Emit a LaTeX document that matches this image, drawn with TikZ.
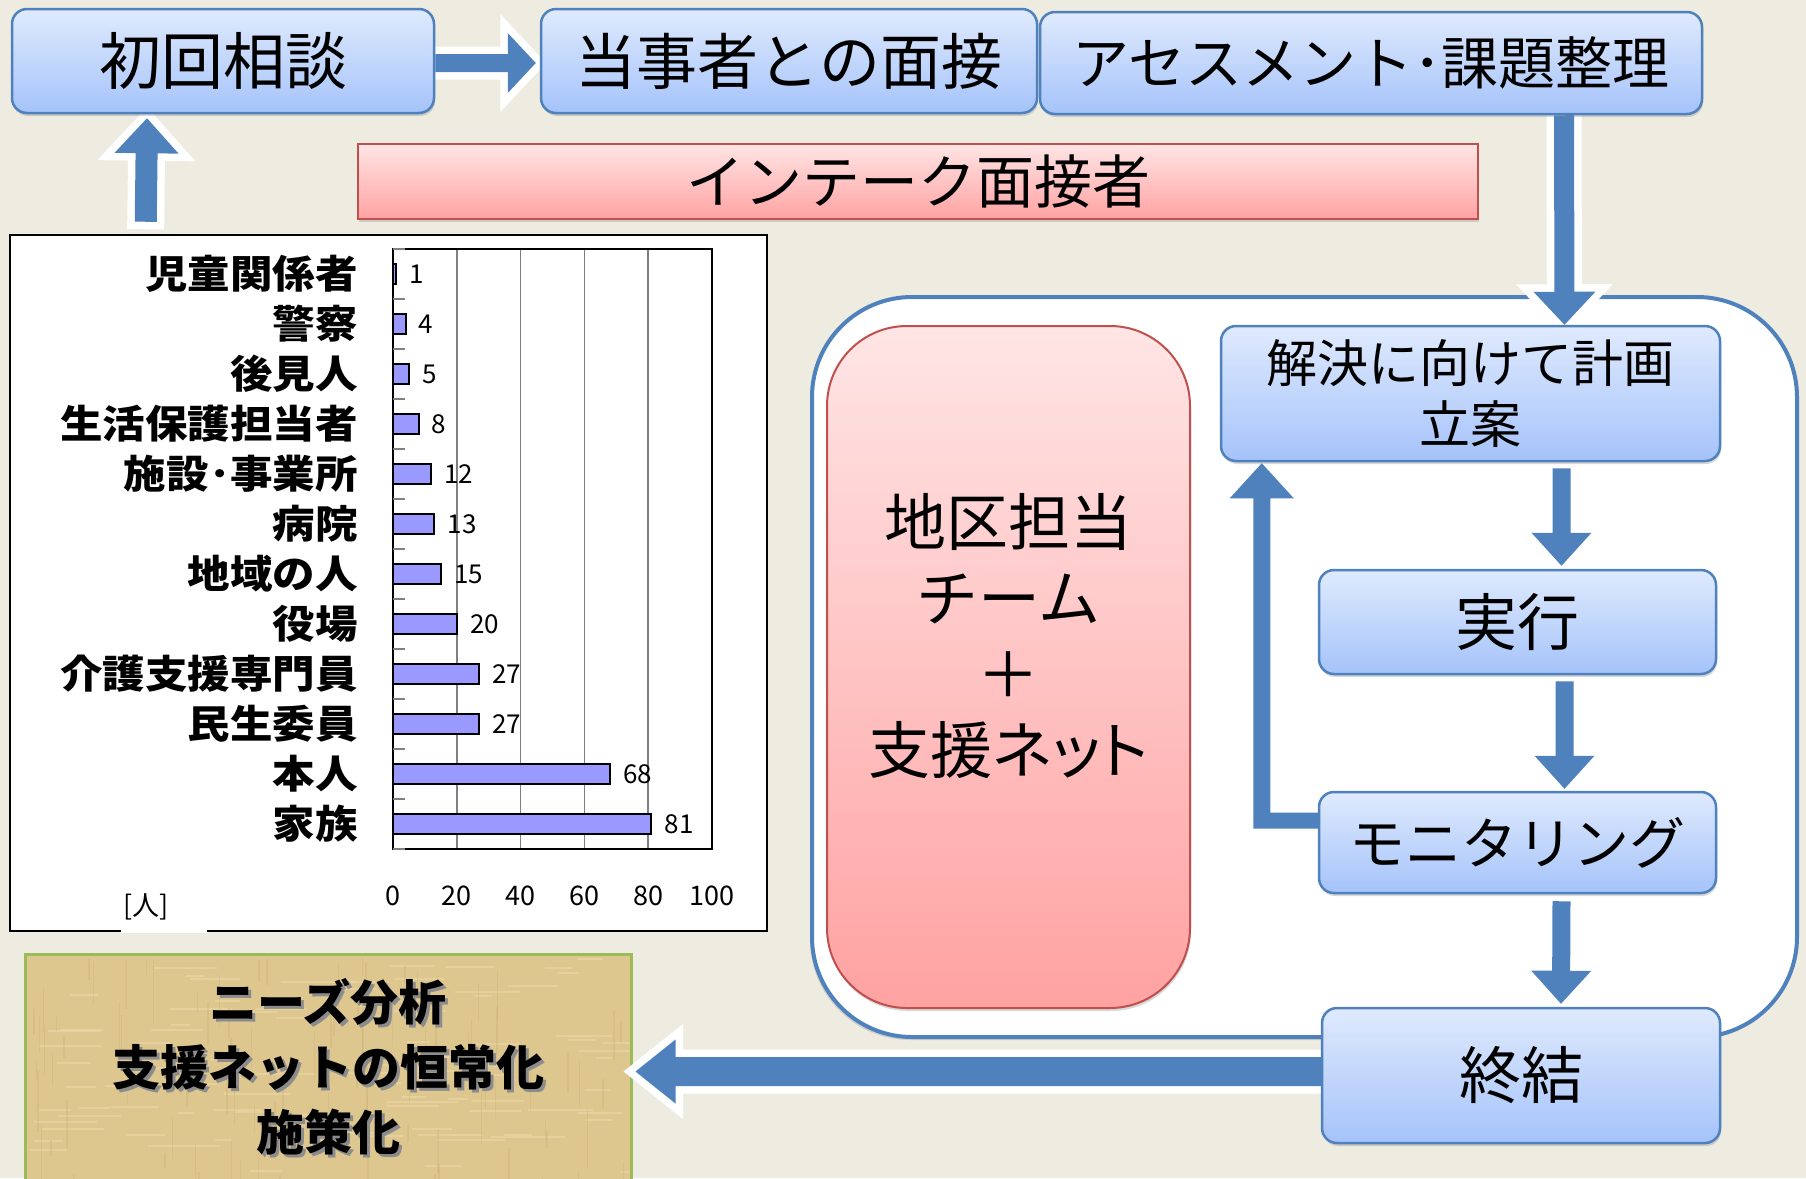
\documentclass[tikz,border=0pt]{standalone}
\usepackage{fontspec}
\setmainfont{Noto Sans CJK JP}
\newfontfamily\chartfont[FakeStretch=1.09]{Noto Sans CJK JP}
\usetikzlibrary{calc,shadows}
\pgfdeclarelayer{back}
\pgfdeclarelayer{arrows}
\pgfsetlayers{back,arrows,main}
\definecolor{bg}{HTML}{EEEBE1}
\definecolor{boxtop}{HTML}{DFEAFD}
\definecolor{boxbot}{HTML}{A5C3FA}
\definecolor{boxline}{HTML}{4F81BD}
\definecolor{arrowblue}{HTML}{4F81BD}
\definecolor{pinktop}{HTML}{FFE5E5}
\definecolor{pinkbot}{HTML}{FFA2A2}
\definecolor{pinkline}{HTML}{C0504D}
\definecolor{barfill}{HTML}{9999FF}
\definecolor{parch}{HTML}{DEC78F}
\definecolor{parchlight}{HTML}{EBD9AC}
\definecolor{parchdark}{HTML}{C9AE74}
\definecolor{parchline}{HTML}{9BBB59}
\definecolor{gridgray}{HTML}{808080}
\newcommand\fsz[1]{\fontsize{#1}{#1}\selectfont}
\tikzset{
  bluebox/.style={rounded corners=15pt, draw=boxline, line width=2.5pt,
    top color=boxtop, bottom color=boxbot, align=center, inner sep=0pt,
    drop shadow={opacity=0.3, shadow xshift=1pt, shadow yshift=-3pt}},
  pinkrect/.style={draw=pinkline, line width=2pt, top color=pinktop, bottom color=pinkbot,
    inner sep=0pt, drop shadow={opacity=0.3, shadow xshift=1pt, shadow yshift=-3pt}},
  pinkbox/.style={pinkrect, rounded corners=80pt},
  container/.style={draw=boxline, line width=4pt, fill=white, rounded corners=100pt,
    drop shadow={opacity=0.25, shadow xshift=-2pt, shadow yshift=-3pt}},
  chartbox/.style={draw=black, line width=2.5pt, fill=white, inner sep=0pt},
  parchbox/.style={draw=parchline, line width=3pt, fill=parch, inner sep=0pt},
  blockarrowstyle/.style={fill=arrowblue, preaction={draw=white, line width=15pt, line join=miter}},
  bar/.style={draw=black, line width=2pt, fill=barfill},
  gridline/.style={draw=gridgray, line width=1.5pt},
  catlabel/.style={font=\chartfont\bfseries\fsz{39}, inner sep=0pt, anchor=east},
  vallabel/.style={font=\fsz{26}, inner sep=0pt, anchor=west},
  axlabel/.style={font=\fsz{27}, inner sep=0pt},
  needsfont/.style={align=center, inner sep=0pt, font={\fontsize{48}{65}\selectfont\bfseries}},
}
% block arrow: #1 start, #2 tip, #3 half shaft, #4 half head, #5 head length
\newcommand\blockarrow[5]{%
  \coordinate (bah) at ($#2!#5!#1$);
  \path[blockarrowstyle] ($#1!#3!90:#2$) -- ($(bah)!#3!-90:#1$) -- ($(bah)!#4!-90:#1$) -- #2
    -- ($(bah)!#4!90:#1$) -- ($(bah)!#3!90:#1$) -- ($#1!#3!-90:#2$) -- cycle;}
\begin{document}
\begin{tikzpicture}[x=1pt,y=-1pt]
\useasboundingbox (0,0) rectangle (1806,1178);
\begin{pgfonlayer}{back}
\fill[bg] (0,0) rectangle (1806,1178);
\begin{scope}
\clip (0,0) rectangle (1806,1178);

% intake bar
\node[pinkrect, minimum width=1120pt, minimum height=75pt] (intake) at (918,181.5) {\fsz{58}インテーク面接者};

% chart
\node[chartbox, minimum width=757pt, minimum height=696pt] (chart) at (388.5,583) {};
\foreach \g in {20,40,60,80} \draw[gridline] (393+3.19*\g,249) -- (393+3.19*\g,849);
\draw[black, line width=1.5pt] (393,249) rectangle (712,849);
\foreach \i in {0,...,12} \draw[gridgray, line width=1.2pt] (393,249+50*\i) -- (405,249+50*\i);
\foreach \lab/\v [count=\i from 0] in {児童関係者/1,警察/4,後見人/5,生活保護担当者/8,施設･事業所/12,病院/13,地域の人/15,役場/20,介護支援専門員/27,民生委員/27,本人/68,家族/81}{
  \pgfmathsetmacro\cy{274+50*\i}
  \pgfmathsetmacro\bx{393+3.19*\v}
  \draw[bar] (393,\cy-10) rectangle (\bx,\cy+10);
  \node[catlabel] (cat\i) at (358,\cy) {\lab};
  \node[vallabel] (val\i) at (\bx+13,\cy) {\v};
}
\foreach \g in {0,20,...,100} \node[axlabel] (ax\g) at (393+3.19*\g,896) {\g};
\node[axlabel] (unit) at (146,907) {[人]};
\draw[white, line width=3pt] (121,931) -- (207,931);

% container and team box
\node[container, minimum width=985pt, minimum height=740pt] (cont) at (1304.5,667) {};
\node[pinkbox, minimum width=363pt, minimum height=682pt] (team) at (1008.5,667) {};
\node[align=center, inner sep=0pt, font={\fontsize{62}{76}\selectfont}] (teamtext) at (1008.5,636) {地区担当\\チーム\\＋\\{\addfontfeature{RawFeature=+palt}支援ネット}};

% needs box with parchment texture
\node[parchbox, minimum width=606pt, minimum height=236pt] (needs) at (328,1072) {};
\begin{scope}
\clip (26.5,955.5) rectangle (629.5,1178);
\pgfmathsetseed{11}
\foreach \k in {1,...,90}{
  \pgfmathsetmacro\px{30+rnd*600}
  \pgfmathsetmacro\py{958+rnd*220}
  \pgfmathsetmacro\pl{15+rnd*60}
  \draw[parchlight, opacity=0.55, line width=2pt] (\px,\py) -- (\px+\pl,\py);
}
\foreach \k in {1,...,90}{
  \pgfmathsetmacro\px{30+rnd*600}
  \pgfmathsetmacro\py{958+rnd*220}
  \pgfmathsetmacro\pl{15+rnd*50}
  \draw[parchdark, opacity=0.35, line width=1.5pt] (\px,\py) -- (\px,\py+\pl);
}
\end{scope}
\node[needsfont, text=black!45] (needsshadow) at (331,1070) {ニーズ分析\\支援ネットの恒常化\\施策化};
\node[needsfont] (needstext) at (328,1067) {ニーズ分析\\支援ネットの恒常化\\施策化};
\end{scope}
\end{pgfonlayer}

% blue boxes
\node[bluebox, minimum width=422pt, minimum height=104pt] (first) at (223,61) {\fsz{62}初回相談};
\node[bluebox, minimum width=496pt, minimum height=104pt] (meet) at (789,61) {\fsz{61}当事者との面接};
\node[bluebox, minimum width=662pt, minimum height=102pt] (assess) at (1371,63) {\fsz{57}アセスメント･課題整理};
\node[bluebox, minimum width=499pt, minimum height=135pt, font={\fontsize{51}{61}\selectfont}] (plan) at (1470.5,393.5) {解決に向けて計画\\立案};
\node[bluebox, minimum width=397pt, minimum height=104pt] (exec) at (1517.5,622) {\fsz{62}実行};
\node[bluebox, minimum width=397pt, minimum height=101pt] (moni) at (1517.5,842.5) {\fsz{56}モニタリング};
\node[bluebox, minimum width=398pt, minimum height=135pt] (fin) at (1521,1075.5) {\fsz{62}終結};

% arrows
\begin{pgfonlayer}{arrows}
\coordinate (a1s) at ($(first.east)+(0,2)$);
\coordinate (a1e) at ($(meet.west)+(-4,2)$);
\blockarrow{(a1s)}{(a1e)}{9pt}{30pt}{28pt}
\coordinate (a2s) at ($(chart.north west)+(137,-12)$);
\coordinate (a2e) at ($(first.south)+(-76,4)$);
\blockarrow{(a2s)}{(a2e)}{11pt}{32pt}{35pt}
\coordinate (a3s) at ($(assess.south)+(193,0)$);
\coordinate (a3e) at ($(plan.north)+(94,0)$);
\blockarrow{(a3s)}{(a3e)}{10pt}{31pt}{33pt}
\coordinate (a4s) at ($(plan.south)+(91,6)$);
\coordinate (a4e) at ($(exec.north)+(44,-3)$);
\blockarrow{(a4s)}{(a4e)}{9pt}{30pt}{33pt}
\coordinate (a5s) at ($(exec.south)+(47,6)$);
\coordinate (a5e) at ($(moni.north)+(47,-2)$);
\blockarrow{(a5s)}{(a5e)}{9pt}{30pt}{33pt}
\coordinate (a6s) at ($(moni.south)+(44,7)$);
\coordinate (a6e) at ($(fin.north)+(40,-3)$);
\blockarrow{(a6s)}{(a6e)}{9pt}{30pt}{33pt}
\coordinate (a7s) at ($(fin.west)+(0,-4)$);
\coordinate (a7x) at (a7s -| needs.east);
\coordinate (a7e) at ($(a7x)+(3,0)$);
\blockarrow{(a7s)}{(a7e)}{14.5pt}{32pt}{40pt}
% feedback arrow monitoring -> plan
\coordinate (fb1) at ($(moni.west)+(0,-22)$);
\coordinate (fbtip) at ($(plan.south west)+(42,1)$);
\coordinate (fbc) at (fb1 -| fbtip);
\path[blockarrowstyle] ($(fb1)+(0,-8)$) -- ($(fbc)+(8.5,-8)$) -- ($(fbtip)+(8.5,35)$)
  -- ($(fbtip)+(32,35)$) -- (fbtip) -- ($(fbtip)+(-32,35)$) -- ($(fbtip)+(-8.5,35)$)
  -- ($(fbc)+(-8.5,8)$) -- ($(fb1)+(0,8)$) -- cycle;
\end{pgfonlayer}
\end{tikzpicture}
\end{document}
